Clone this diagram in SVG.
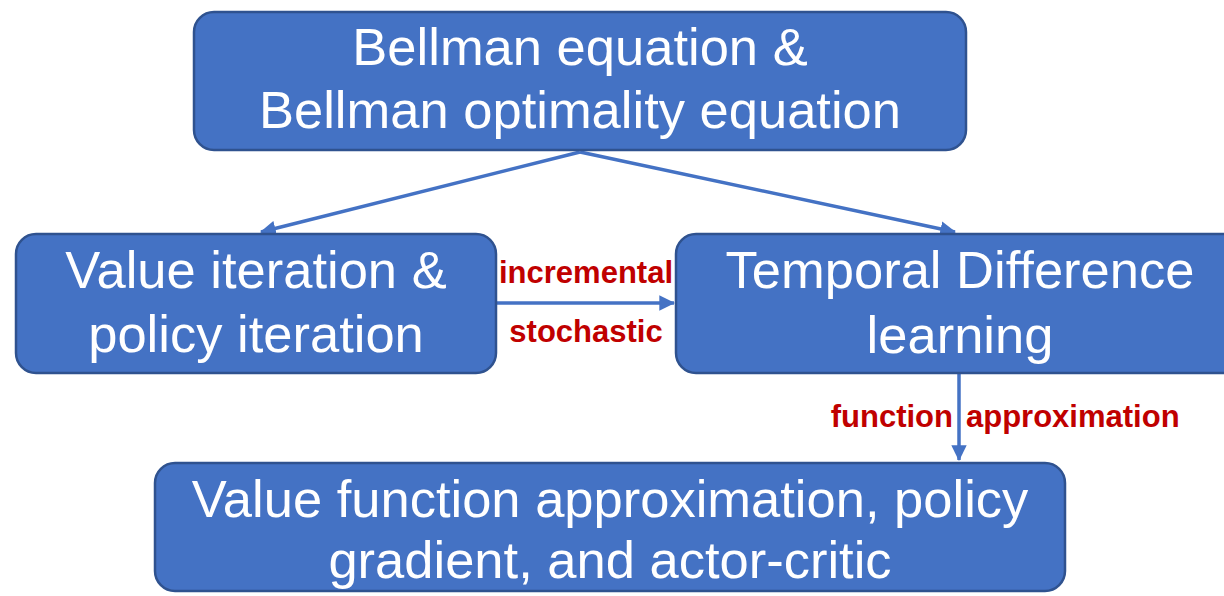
<svg xmlns="http://www.w3.org/2000/svg" width="1224" height="596" viewBox="0 0 1224 596">
<style>
.box{fill:#4472C4;stroke:#2F528F;stroke-width:2.5}
.t{font-family:"Liberation Sans",Arial,Helvetica,sans-serif;font-size:52.5px;fill:#FFFFFF;text-anchor:middle}
.lbl{font-family:"Liberation Sans",Arial,Helvetica,sans-serif;font-size:31px;font-weight:bold;fill:#C00000}
.conn{stroke:#4472C4;stroke-width:3.5;fill:none;marker-end:url(#ah)}
</style>
<defs>
<marker id="ah" markerWidth="4.5" markerHeight="4.4" refX="4.2" refY="2.2" orient="auto" markerUnits="strokeWidth">
<path d="M0,0 L4.5,2.2 L0,4.4 z" fill="#4472C4"/>
</marker>
</defs>
<g id="connectors">
<line class="conn" x1="580" y1="152" x2="261" y2="232"/>
<line class="conn" x1="580" y1="152" x2="955" y2="232"/>
<line class="conn" x1="497" y1="303" x2="674" y2="303"/>
<line class="conn" x1="959" y1="374" x2="959" y2="460"/>
</g>
<g id="labels">
<text class="lbl" x="586" y="283" text-anchor="middle">incremental</text>
<text class="lbl" x="586" y="342" text-anchor="middle">stochastic</text>
<text class="lbl" x="953" y="427" text-anchor="end">function</text>
<text class="lbl" x="966" y="427">approximation</text>
</g>
<g id="bellman">
<rect class="box" x="194" y="12" width="772" height="138" rx="20"/>
<text class="t" x="580" y="65">Bellman equation &amp;</text>
<text class="t" x="580" y="128">Bellman optimality equation</text>
</g>
<g id="vi-pi">
<rect class="box" x="16" y="234" width="480" height="139" rx="20"/>
<text class="t" x="256" y="288">Value iteration &amp;</text>
<text class="t" x="256" y="352">policy iteration</text>
</g>
<g id="td">
<rect class="box" x="676" y="234" width="580" height="139" rx="20"/>
<text class="t" x="960" y="288">Temporal Difference</text>
<text class="t" x="960" y="353">learning</text>
</g>
<g id="fa">
<rect class="box" x="155" y="463" width="910" height="128" rx="20"/>
<text class="t" x="610" y="517">Value function approximation, policy</text>
<text class="t" x="610" y="578">gradient, and actor-critic</text>
</g>
</svg>
